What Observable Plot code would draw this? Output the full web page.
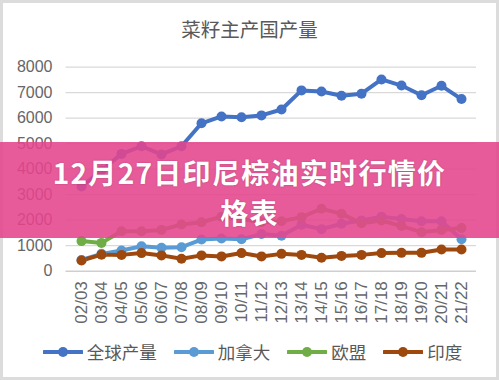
<!DOCTYPE html>
<html><head><meta charset="utf-8">
<script src="https://cdn.jsdelivr.net/npm/d3@7"></script>
<script src="https://cdn.jsdelivr.net/npm/@observablehq/plot@0.6"></script>
<style>
body{margin:0;background:#fff;}
#wrap{position:relative;width:499px;height:380px;overflow:hidden;background:#fff;}
#frame{position:absolute;left:0;top:0;width:499px;height:380px;box-sizing:border-box;border:3px solid #dcdcdc;}
#title{position:absolute;top:15px;left:0;width:499px;text-align:center;font-size:19.5px;color:#595959;font-family:"Noto Sans CJK SC",sans-serif;line-height:28px;}
#chart{position:absolute;top:50px;left:0;}
#legend{position:absolute;top:340px;left:0;width:499px;display:flex;justify-content:center;align-items:center;font-family:"Noto Sans CJK SC",sans-serif;font-size:17.5px;color:#595959;line-height:24px;padding-left:6px;box-sizing:border-box;}
.item{display:flex;align-items:center;margin:0 8.5px;}
.item svg{margin-right:4px;}
#banner{position:absolute;left:0;top:142px;width:499px;height:96px;background:rgba(229,68,141,0.88);}
.bl{position:absolute;left:0;width:499px;text-align:center;color:#fff;font-weight:bold;font-size:28px;letter-spacing:1.3px;font-family:"Noto Sans CJK SC",sans-serif;line-height:40px;text-shadow:0 0 2px rgba(0,0,0,0.25);}
</style>
</head><body>
<div id="wrap">
  <div id="frame"></div>
  <div id="title"></div>
  <div id="chart"></div>
  <div id="legend"></div>
  <div id="banner"><div class="bl" style="top:10px">12月27日印尼棕油实时行情价</div><div class="bl" style="top:50px">格表</div></div>
</div>
<script>
const chartTitle = "菜籽主产国产量";
const categories = ["02/03","03/04","04/05","05/06","06/07","07/08","08/09","09/10","10/11","11/12","12/13","13/14","14/15","15/16","16/17","17/18","18/19","19/20","20/21","21/22"];
const globalOutput = [3320,3950,4600,4900,4580,4900,5800,6070,6040,6110,6340,7090,7050,6880,6960,7520,7280,6900,7270,6750];
const canada = [440,680,810,980,920,940,1240,1280,1250,1460,1390,1820,1650,1860,1990,2140,2050,1960,1960,1250];
const eu = [1180,1110,1570,1570,1620,1830,1920,2140,2050,1920,1960,2120,2450,2250,1880,1990,1770,1530,1620,1690];
const india = [420,650,640,710,620,490,620,580,710,580,680,640,530,600,640,710,720,720,850,850];
const seriesNames = ["全球产量","加拿大","欧盟","印度"];
const seriesColors = ["#4472C4","#5B9BD5","#70AD47","#9E480E"];
const yTicks = [0,1000,2000,3000,4000,5000,6000,7000,8000];

document.getElementById("title").textContent = chartTitle;

const seriesValues = [globalOutput, canada, eu, india];
const data = [];
seriesValues.forEach((vals, i) => vals.forEach((v, j) => data.push({cat: categories[j], value: v, series: seriesNames[i]})));

const plot = Plot.plot({
  width: 499, height: 280,
  marginLeft: 65.5, marginRight: 23, marginTop: 16.7, marginBottom: 59.3,
  style: {background: "transparent", fontFamily: "'Liberation Sans', sans-serif", color: "#595959"},
  x: {type: "point", domain: categories, padding: 0.5, axis: null},
  y: {domain: [0, 8000], axis: null},
  color: {domain: seriesNames, range: seriesColors},
  marks: [
    Plot.ruleY(yTicks.filter(t => t > 0), {stroke: "#d9d9d9", strokeWidth: 1.3}),
    Plot.ruleY([0], {stroke: "#cfcfcf", strokeWidth: 1.5}),
    Plot.axisY(yTicks, {tickSize: 0, tickPadding: 13.5, fontSize: 16, fill: "#666666", tickFormat: d => String(d), label: null}),
    Plot.axisX({tickSize: 0, tickRotate: -90, fontSize: 17, tickPadding: 10, fill: "#666666", label: null}),
    Plot.line(data, {x: "cat", y: "value", z: "series", stroke: "series", strokeWidth: 4}),
    Plot.dot(data, {x: "cat", y: "value", fill: "series", r: 5})
  ]
});
document.getElementById("chart").appendChild(plot);

const legend = document.getElementById("legend");
seriesNames.forEach((name, i) => {
  const it = document.createElement("div");
  it.className = "item";
  it.innerHTML = `<svg width="40" height="12"><line x1="1" y1="6" x2="39" y2="6" stroke="${seriesColors[i]}" stroke-width="4" stroke-linecap="round"/><circle cx="20" cy="6" r="5" fill="${seriesColors[i]}"/></svg><span>${name}</span>`;
  legend.appendChild(it);
});
</script>
</body></html>
